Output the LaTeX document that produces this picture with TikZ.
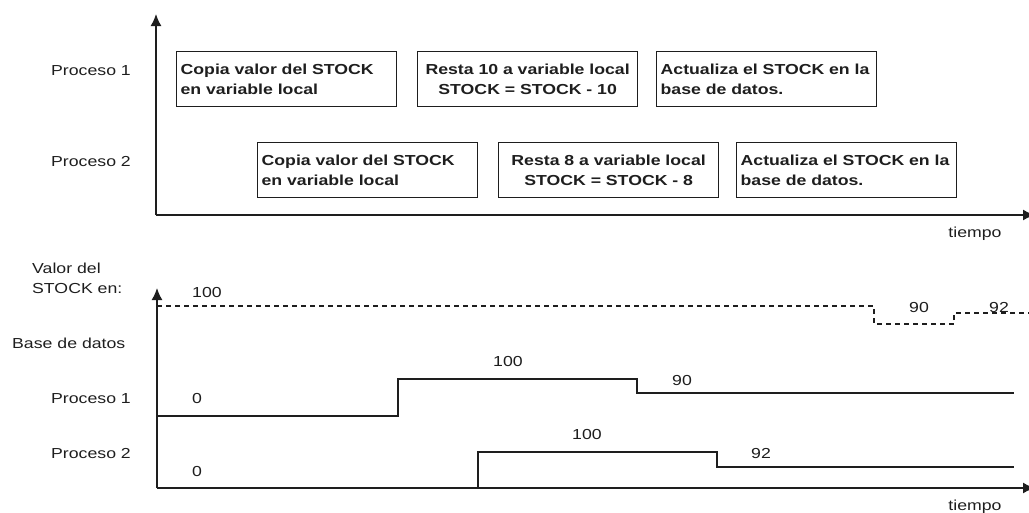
\documentclass[tikz,border=0pt]{standalone}
\usepackage{fontspec}
\setmainfont[FakeStretch=1.22]{Liberation Sans}
\usetikzlibrary{arrows.meta}

\definecolor{tinta}{RGB}{30,30,30}

\tikzset{
	caja/.style={draw=tinta, line width=1.3pt, anchor=north west, inner sep=4pt,
		text width=212pt, minimum height=55pt, text=tinta,
		font=\fontsize{14.5}{20}\selectfont\bfseries},
	etiq/.style={anchor=base west, inner sep=0pt, text=tinta, font=\fontsize{14.5}{20}\selectfont},
	valor/.style={anchor=base, inner sep=0pt, text=tinta, font=\fontsize{14.5}{20}\selectfont},
	eje/.style={draw=tinta, line width=1.5pt, -{Latex[length=12pt,width=11pt]}},
	nivel/.style={draw=tinta, line width=1.2pt},
	base/.style={draw=tinta, line width=1.1pt, dash pattern=on 5pt off 4pt}
}

\begin{document}
\begin{tikzpicture}[x=1pt, y=-1pt]
	\useasboundingbox (0,0) rectangle (1029,512);
	\clip (0,0) rectangle (1029,512);

% tareas de cada proceso
	\draw[eje] (156,215) -- (156,14);
	\draw[eje] (156,215) -- (1035,215);
	\node[etiq] (tp1) at (51,75) {Proceso 1};
	\node[etiq] (tp2) at (51,166) {Proceso 2};
	\node[etiq, anchor=base] (tt1) at (975,237) {tiempo};

	\node[caja, align=left] (c1) at (176,51) {Copia valor del STOCK\\en variable local};
	\node[caja, align=center] (r1) at (417,51) {Resta 10 a variable local\\STOCK = STOCK - 10};
	\node[caja, align=left] (a1) at (656,51) {Actualiza el STOCK en la\\base de datos.};

	\node[caja, align=left] (c2) at (257,142) {Copia valor del STOCK\\en variable local};
	\node[caja, align=center] (r2) at (498,142) {Resta 8 a variable local\\STOCK = STOCK - 8};
	\node[caja, align=left] (a2) at (736,142) {Actualiza el STOCK en la\\base de datos.};

% valores del stock
	\draw[eje] (157,488) -- (157,288);
	\draw[eje] (157,488) -- (1035,488);
	\node[etiq] (vd) at (32,273) {Valor del};
	\node[etiq] (se) at (32,293) {STOCK en:};
	\node[etiq] (bd) at (12,348) {Base de datos};
	\node[etiq] (vp1) at (51,403) {Proceso 1};
	\node[etiq] (vp2) at (51,458) {Proceso 2};
	\node[etiq, anchor=base] (tt2) at (975,510) {tiempo};

	% base de datos
	\draw[base] (157,306) -- (874,306) -- (874,324) -- (954,324) -- (954,313) -- (1029,313);
	\node[valor] (b0) at (207,297) {100};
	\node[valor] (b1) at (919,312) {90};
	\node[valor] (b2) at (999,312) {92};

	% proceso 1
	\draw[nivel] (157,416) -- (398,416) -- (398,379) -- (637,379) -- (637,393) -- (1014,393);
	\node[valor] (q0) at (197,403) {0};
	\node[valor] (q1) at (508,366) {100};
	\node[valor] (q2) at (682,385) {90};

	% proceso 2
	\draw[nivel] (478,488) -- (478,452) -- (717,452) -- (717,467) -- (1014,467);
	\node[valor] (s0) at (197,476) {0};
	\node[valor] (s1) at (587,439) {100};
	\node[valor] (s2) at (761,458) {92};

\end{tikzpicture}
\end{document}
